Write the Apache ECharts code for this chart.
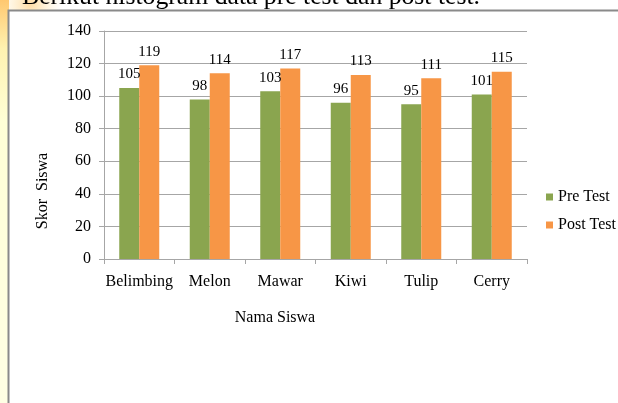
<!DOCTYPE html>
<html><head><meta charset="utf-8">
<script src="https://cdn.jsdelivr.net/npm/echarts@6/dist/echarts.min.js"></script>
<style>html,body{margin:0;padding:0;background:#fff}#c{width:618px;height:403px}</style>
</head><body><div id="c"></div>
<script>
const categories = ['Belimbing','Melon','Mawar','Kiwi','Tulip','Cerry'];
const preTest = [105, 98, 103, 96, 95, 101];
const postTest = [119, 114, 117, 113, 111, 115];
const yTicks = [0, 20, 40, 60, 80, 100, 120, 140];

const font = 'Liberation Serif';
const chart = echarts.init(document.getElementById('c'));
chart.setOption({
  backgroundColor: '#fff',
  animation: false,
  textStyle: {fontFamily: font},
  graphic: [
    {type:'rect', z:-10, shape:{x:0,y:0,width:9,height:403},
     style:{fill:new echarts.graphic.LinearGradient(0,0,0,1,[
       {offset:0,color:'#ffc870'},{offset:0.12,color:'#fff2b0'},{offset:0.3,color:'#ffffd6'},{offset:1,color:'#ffffe4'}])}},
    {type:'circle', z:-11, shape:{cx:30,cy:4,r:32},
     style:{fill:new echarts.graphic.RadialGradient(0.5,0.5,0.5,[
       {offset:0,color:'rgba(255,190,90,0.55)'},{offset:1,color:'rgba(255,230,150,0)'}])}},
    {type:'rect', z:-9, shape:{x:8.5,y:10.5,width:700,height:500},
     style:{fill:'#fff', stroke:'#8a8a8a', lineWidth:2}},
    {type:'text', left:22, top:-16, style:{text:'Berikut histogram data pre test dan post test.', font:'25.7px "Liberation Serif"', fill:'#000'}},
    {type:'text', x:43, y:191, rotation:Math.PI/2, style:{text:'Skor  Siswa', font:'16px "Liberation Serif"', fill:'#000', align:'center', verticalAlign:'middle'}},
    {type:'text', x:275, y:318, style:{text:'Nama Siswa', font:'16px "Liberation Serif"', fill:'#000', align:'center', verticalAlign:'middle'}}
  ],
  grid: {left:104, right:91, top:31, bottom:144, containLabel:false},
  legend: {
    orient:'vertical', left:546, top:189, padding:0, itemWidth:7, itemHeight:7, itemGap:12,
    icon:'rect', textStyle:{fontFamily:font, fontSize:16, color:'#000'},
    data:['Pre Test','Post Test']
  },
  xAxis: {
    type:'category', data:categories,
    axisLine:{lineStyle:{color:'#a6a6a6'}},
    axisTick:{show:true, length:5, interval:0, lineStyle:{color:'#a6a6a6'}},
    axisLabel:{fontFamily:font, fontSize:16, color:'#000', margin:15, interval:0}
  },
  yAxis: {
    type:'value', min:0, max:140, interval:20,
    axisLine:{show:true, lineStyle:{color:'#a6a6a6'}},
    axisTick:{show:true, length:5, lineStyle:{color:'#a6a6a6'}},
    splitLine:{lineStyle:{color:'#a6a6a6'}},
    axisLabel:{fontFamily:font, fontSize:16, color:'#000', margin:13,
      formatter: v => yTicks.includes(v) ? String(v) : ''}
  },
  series: [
    {name:'Pre Test', type:'bar', data:preTest, barWidth:20, barGap:'0%',
     itemStyle:{color:'#8aa54f'},
     label:{show:true, position:'top', distance:6, fontFamily:font, fontSize:15, color:'#000'}},
    {name:'Post Test', type:'bar', data:postTest, barWidth:20,
     itemStyle:{color:'#f79646'},
     label:{show:true, position:'top', distance:6, fontFamily:font, fontSize:15, color:'#000'}}
  ]
});
</script></body></html>
